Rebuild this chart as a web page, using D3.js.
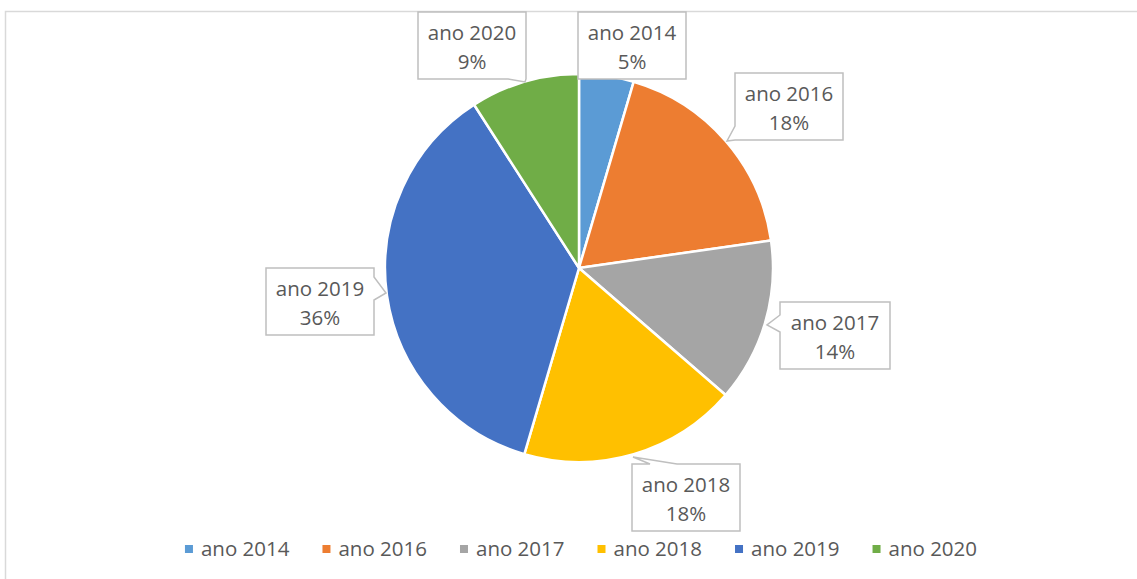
<!DOCTYPE html>
<html>
<head>
<meta charset="utf-8">
<script src="https://cdn.jsdelivr.net/npm/d3@7"></script>
<style>
  html, body { margin: 0; padding: 0; background: #fff; }
  svg { display: block; font-family: "Open Sans", "Liberation Sans", sans-serif; }
</style>
</head>
<body>
<div id="vis"></div>
<script>
// Pie of records per year, Excel-style callout labels + bottom legend.

const YEARS  = ["ano 2014", "ano 2016", "ano 2017", "ano 2018", "ano 2019", "ano 2020"];
const COUNTS = [1, 4, 3, 4, 8, 2];
const COLORS = ["#5B9BD5", "#ED7D31", "#A5A5A5", "#FFC000", "#4472C4", "#70AD47"];

// callout boxes (layout only): top-left corner, and optional wedge pointer
const CALLOUTS = {
  "ano 2014": { x: 578, y: 12,  w: 108, h: 67, ptr: null },
  "ano 2016": { x: 735, y: 73,  w: 108, h: 67, ptr: { side: "left",   a: 126, b: 140, tx: 727, ty: 141 } },
  "ano 2017": { x: 780, y: 302, w: 110, h: 67, ptr: { side: "left",   a: 315, b: 332, tx: 767, ty: 325 } },
  "ano 2018": { x: 632, y: 464, w: 108, h: 67, ptr: { side: "top",    a: 650, b: 677, tx: 633, ty: 457 } },
  "ano 2019": { x: 266, y: 268, w: 108, h: 67, ptr: { side: "right",  a: 277, b: 300, tx: 386, ty: 293 } },
  "ano 2020": { x: 418, y: 12,  w: 108, h: 67, ptr: { side: "bottom", a: 508, b: 526, tx: 525, ty: 82 } },
};

const W = 1137, H = 579;
const cx = 579, cy = 268, R = 194;
const TEXT = "#595959";
const FS = "20.5px";

const svg = d3.select("#vis").append("svg").attr("width", W).attr("height", H);

// chart area frame (right / bottom edges fall outside the picture)
svg.append("rect")
  .attr("x", 5.5).attr("y", 11.5).attr("width", W + 20).attr("height", H + 20)
  .attr("fill", "none").attr("stroke", "#D9D9D9").attr("stroke-width", 1.5);

const total = d3.sum(COUNTS);
const pct = d3.format(".0%");
const color = d3.scaleOrdinal().domain(YEARS).range(COLORS);

const pie = d3.pie().sort(null).value(d => d.value);
const arcs = pie(YEARS.map((y, i) => ({ year: y, value: COUNTS[i] })));
const arc = d3.arc().innerRadius(0).outerRadius(R);

const g = svg.append("g").attr("transform", `translate(${cx},${cy})`);
g.selectAll("path").data(arcs).join("path")
  .attr("d", arc)
  .attr("fill", d => color(d.data.year))
  .attr("stroke", "#fff").attr("stroke-width", 2.5).attr("stroke-linejoin", "round");

// ── Callouts ────────────────────────────────────────────────────────────────
function calloutPath(b) {
  const p = b.ptr;
  const x0 = b.x, y0 = b.y, x1 = b.x + b.w, y1 = b.y + b.h;
  const pts = [[x0, y0]];
  if (p && p.side === "top")    pts.push([p.a, y0], [p.tx, p.ty], [p.b, y0]);
  pts.push([x1, y0]);
  if (p && p.side === "right")  pts.push([x1, p.a], [p.tx, p.ty], [x1, p.b]);
  pts.push([x1, y1]);
  if (p && p.side === "bottom") pts.push([p.b, y1], [p.tx, p.ty], [p.a, y1]);
  pts.push([x0, y1]);
  if (p && p.side === "left")   pts.push([x0, p.b], [p.tx, p.ty], [x0, p.a]);
  return "M" + pts.map(q => q.join(",")).join("L") + "Z";
}

arcs.forEach(d => {
  const b = CALLOUTS[d.data.year];
  const lg = svg.append("g");
  lg.append("path")
    .attr("d", calloutPath(b))
    .attr("fill", "#fff").attr("stroke", "#BFBFBF").attr("stroke-width", 1.5);
  const mx = b.x + b.w / 2;
  lg.append("text")
    .attr("x", mx).attr("y", b.y + 28).attr("text-anchor", "middle")
    .attr("fill", TEXT).style("font-size", FS)
    .text(d.data.year);
  lg.append("text")
    .attr("x", mx).attr("y", b.y + 57).attr("text-anchor", "middle")
    .attr("fill", TEXT).style("font-size", FS)
    .text(pct(d.data.value / total));
});

// ── Legend ──────────────────────────────────────────────────────────────────
const legend = svg.append("g");
const items = legend.selectAll("g").data(YEARS).join("g");
items.append("rect")
  .attr("x", 0).attr("y", -11).attr("width", 8).attr("height", 8)
  .attr("fill", d => color(d));
items.append("text")
  .attr("x", 16).attr("y", 0)
  .attr("fill", TEXT).style("font-size", FS)
  .text(d => d);

let off = 0;
const gap = 33;
items.each(function() {
  const w = d3.select(this).select("text").node().getComputedTextLength();
  d3.select(this).attr("data-off", off);
  off += 16 + w + gap;
});
const legendW = off - gap;
const lx = 581 - legendW / 2;
items.attr("transform", function() { return `translate(${lx + (+this.dataset.off)},556)`; });
</script>
</body>
</html>
